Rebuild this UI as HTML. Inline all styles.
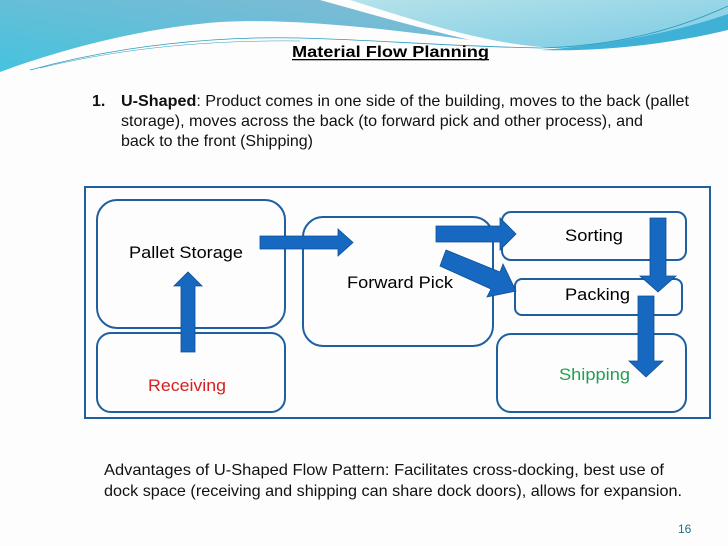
<!DOCTYPE html>
<html><head><meta charset="utf-8"><style>
html,body{margin:0;padding:0;background:#fff;}
svg{display:block;font-family:"Liberation Sans",Arial,Helvetica,sans-serif;}
</style></head><body>
<svg width="728" height="546" viewBox="0 0 728 546" xmlns="http://www.w3.org/2000/svg" font-family="Liberation Sans, Arial, Helvetica, sans-serif">
<defs>
<linearGradient id="gl" x1="0" y1="1" x2="1" y2="0">
<stop offset="0" stop-color="#45c3de"/><stop offset="1" stop-color="#86b9d2"/></linearGradient>
<linearGradient id="gr" x1="0" y1="0" x2="1" y2="1">
<stop offset="0" stop-color="#b5e2ea"/><stop offset="1" stop-color="#7ccbe4"/></linearGradient>
</defs>
<rect width="728" height="546" fill="#fdfdfd"/>
<path d="M0,0 L320,0 C370,14 420,28 470,40 C380,28 290,18 220,22 C140,28 60,50 0,72 Z" fill="url(#gl)"/>
<path d="M350,0 L728,0 L728,26 C680,36 620,46 560,48 C490,46 420,22 350,0 Z" fill="url(#gr)"/>
<path d="M540,50 C600,46 670,34 728,14 L728,30 C670,44 600,52 540,50 Z" fill="#3fb0d6"/>
<path d="M30,70 C120,45 220,36 300,38 C380,40 440,46 540,48 C620,46 680,28 728,6" fill="none" stroke="#2a9bbd" stroke-width="0.8"/>
<path d="M40,68 C130,46 220,40 300,41" fill="none" stroke="#2a9bbd" stroke-width="0.5"/>
<text x="292" y="57" font-size="16" font-weight="bold" fill="#000" textLength="197" lengthAdjust="spacingAndGlyphs">Material Flow Planning</text>
<rect x="292" y="59" width="197" height="1.3" fill="#000"/>
<g font-size="16" fill="#111">
<text x="92" y="106" font-weight="bold">1.</text>
<text x="121" y="106" textLength="568" lengthAdjust="spacingAndGlyphs"><tspan font-weight="bold">U-Shaped</tspan>: Product comes in one side of the building, moves to the back (pallet</text>
<text x="121" y="126" textLength="522" lengthAdjust="spacingAndGlyphs">storage), moves across the back (to forward pick and other process), and</text>
<text x="121" y="146" textLength="192" lengthAdjust="spacingAndGlyphs">back to the front (Shipping)</text>
<text x="104" y="475" textLength="560" lengthAdjust="spacingAndGlyphs">Advantages of U-Shaped Flow Pattern: Facilitates cross-docking, best use of</text>
<text x="104" y="496" textLength="578" lengthAdjust="spacingAndGlyphs">dock space (receiving and shipping can share dock doors), allows for expansion.</text>
</g>
<text x="678" y="533" font-size="12" fill="#1f6f8b">16</text>
<g fill="none" stroke="#1f5fa0" stroke-width="2">
<rect x="85" y="187" width="625" height="231"/>
<rect x="97" y="200" width="188" height="128" rx="20"/>
<rect x="97" y="333" width="188" height="79" rx="14"/>
<rect x="303" y="217" width="190" height="129" rx="20"/>
<rect x="502" y="212" width="184" height="48" rx="9"/>
<rect x="515" y="279" width="167" height="36" rx="7"/>
<rect x="497" y="334" width="189" height="78" rx="14"/>
</g>
<g font-size="17" fill="#000">
<text x="129" y="258" textLength="114" lengthAdjust="spacingAndGlyphs">Pallet Storage</text>
<text x="347" y="288" textLength="106" lengthAdjust="spacingAndGlyphs">Forward Pick</text>
<text x="565" y="241" textLength="58" lengthAdjust="spacingAndGlyphs">Sorting</text>
<text x="565" y="300" textLength="65" lengthAdjust="spacingAndGlyphs">Packing</text>
<text x="148" y="391" fill="#d42020" textLength="78" lengthAdjust="spacingAndGlyphs">Receiving</text>
<text x="559" y="380" fill="#22a050" textLength="71" lengthAdjust="spacingAndGlyphs">Shipping</text>
</g>
<g fill="#1668c0" stroke="#0e4f95" stroke-width="0.8">
<polygon points="181,352 195,352 195,286 202,286 188,272 174,286 181,286"/>
<polygon points="260,236 338,236 338,229 353,242.5 338,256 338,249 260,249"/>
<polygon points="436,226 500,226 500,218 516,234 500,250 500,242 436,242"/>
<polygon points="446,250 500,272 503,264 516,291 487,297 491,289 440,266"/>
<polygon points="650,218 666,218 666,276 676,276 658,292 640,276 650,276"/>
<polygon points="638,296 654,296 654,361 663,361 646,377 629,361 638,361"/>
</g>
</svg>
</body></html>
